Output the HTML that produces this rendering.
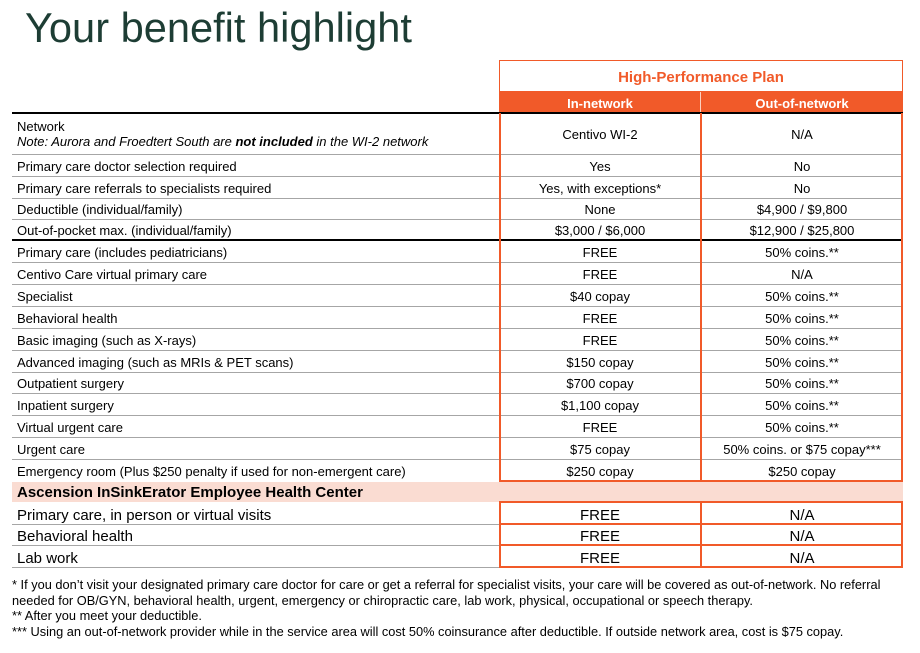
<!DOCTYPE html>
<html><head><meta charset="utf-8"><style>
body{margin:0;width:920px;height:653px;background:#fff;position:relative;overflow:hidden;font-family:"Liberation Sans",Arial,sans-serif;color:#000}
.a{position:absolute}
.t{position:absolute;white-space:nowrap;font-size:13px;line-height:15px}
.c{text-align:center}
.hl{position:absolute;height:1px;background:#a6a6a6}
.vl{position:absolute;width:2px;background:#f15a29}
</style></head><body>
<div class="a" style="left:25px;top:4px;font-size:41.6px;line-height:47px;color:#1d3d34">Your benefit highlight</div>
<div class="a" style="left:499px;top:60px;width:402px;height:31px;border:1px solid #f15a29;border-bottom:none"></div>
<div class="a c" style="left:499px;top:69px;width:404px;font-size:15px;font-weight:bold;color:#f15a29">High-Performance Plan</div>
<div class="a" style="left:499px;top:91px;width:404px;height:22px;background:#f15a29"></div>
<div class="a" style="left:700px;top:92px;width:1px;height:21px;background:#fbd0c0"></div>
<div class="a c" style="left:499px;top:96px;width:202px;font-size:13px;font-weight:bold;color:#fff">In-network</div>
<div class="a c" style="left:701px;top:96px;width:202px;font-size:13px;font-weight:bold;color:#fff">Out-of-network</div>
<div class="a" style="left:12px;top:482px;width:891px;height:20px;background:#fadcd2"></div>
<div class="t" style="left:17px;top:485px;font-size:15px;font-weight:bold">Ascension InSinkErator Employee Health Center</div>
<div id="rows"></div>
<div class="a" style="left:12px;top:577px;width:884px;font-size:12.8px;line-height:15.5px">* If you don’t visit your designated primary care doctor for care or get a referral for specialist visits, your care will be covered as out-of-network. No referral needed for OB/GYN, behavioral health, urgent, emergency or chiropractic care, lab work, physical, occupational or speech therapy.<br>** After you meet your deductible.<br>*** Using an out-of-network provider while in the service area will cost 50% coinsurance after deductible. If outside network area, cost is $75 copay.</div>
<script>
const labels=["Network","Primary care doctor selection required","Primary care referrals to specialists required","Deductible (individual/family)","Out-of-pocket max. (individual/family)","Primary care (includes pediatricians)","Centivo Care virtual primary care","Specialist","Behavioral health","Basic imaging (such as X-rays)","Advanced imaging (such as MRIs & PET scans)","Outpatient surgery","Inpatient surgery","Virtual urgent care","Urgent care","Emergency room (Plus $250 penalty if used for non-emergent care)"];
const inNet=["Centivo WI-2","Yes","Yes, with exceptions*","None","$3,000 / $6,000","FREE","FREE","$40 copay","FREE","FREE","$150 copay","$700 copay","$1,100 copay","FREE","$75 copay","$250 copay"];
const outNet=["N/A","No","No","$4,900 / $9,800","$12,900 / $25,800","50% coins.**","N/A","50% coins.**","50% coins.**","50% coins.**","50% coins.**","50% coins.**","50% coins.**","50% coins.**","50% coins. or $75 copay***","$250 copay"];
const tops=[113,154,176,198,219,240,262,284,306,328,350,372,393,415,437,459,481];
const labels2=["Primary care, in person or virtual visits","Behavioral health","Lab work"];
const in2=["FREE","FREE","FREE"];
const out2=["N/A","N/A","N/A"];
const tops2=[502,524,545,567];
const R=document.getElementById('rows');
function mk(cls,style,txt){const d=document.createElement('div');d.className=cls;d.style.cssText=style;if(txt!==undefined)d.textContent=txt;R.appendChild(d);return d;}
for(let i=0;i<labels.length;i++){
  const y0=tops[i],y1=tops[i+1],h=y1-y0;
  if(i===0){
    const l=mk('t','left:17px;top:'+(y0+6)+'px');
    l.innerHTML='Network<br><i>Note: Aurora and Froedtert South are <b>not included</b> in the WI-2 network</i>';
    
    
  } else {
    const l=mk('t','left:17px;top:'+(y0+(h-15)/2+1)+'px',labels[i]);
    
    
  }
  const a=mk('t c','left:499px;width:202px;top:'+(y0+(h-15)/2+1)+'px',inNet[i]);
  
  
  const b=mk('t c','left:701px;width:202px;top:'+(y0+(h-15)/2+1)+'px',outNet[i]);
  
  
  if(i>0){const ln=mk('hl','left:12px;width:891px;top:'+y0+'px');
    
    }
}
const bl1=mk('a','left:12px;width:891px;top:112px;height:2px;background:#000');


const bl2=mk('a','left:12px;width:891px;top:239px;height:2px;background:#000');


for(let i=0;i<labels2.length;i++){
  const y0=tops2[i],y1=tops2[i+1],h=y1-y0;
  const l=mk('t','left:17px;font-size:15px;line-height:17px;top:'+(y0+(h-17)/2+2)+'px',labels2[i]);
  
  
  const a=mk('t c','left:499px;width:202px;font-size:15px;line-height:17px;top:'+(y0+(h-17)/2+2)+'px',in2[i]);
  
  
  const b=mk('t c','left:701px;width:202px;font-size:15px;line-height:17px;top:'+(y0+(h-17)/2+2)+'px',out2[i]);
  
  
  const g=mk('hl','left:12px;width:487px;top:'+y1+'px');
  
  
}
for(let j=0;j<tops2.length;j++){
  const o=mk('a','left:499px;width:404px;height:2px;background:#f15a29;top:'+(tops2[j]-1)+'px');
  
  
}
const o2=mk('a','left:499px;width:404px;height:2px;background:#f15a29;top:480px');


[499,700,901].forEach(x=>{
  const v=mk('vl','left:'+x+'px;top:113px;height:368px');
  
  
  const w=mk('vl','left:'+x+'px;top:501px;height:67px');
  
  
});
</script>
</body></html>
